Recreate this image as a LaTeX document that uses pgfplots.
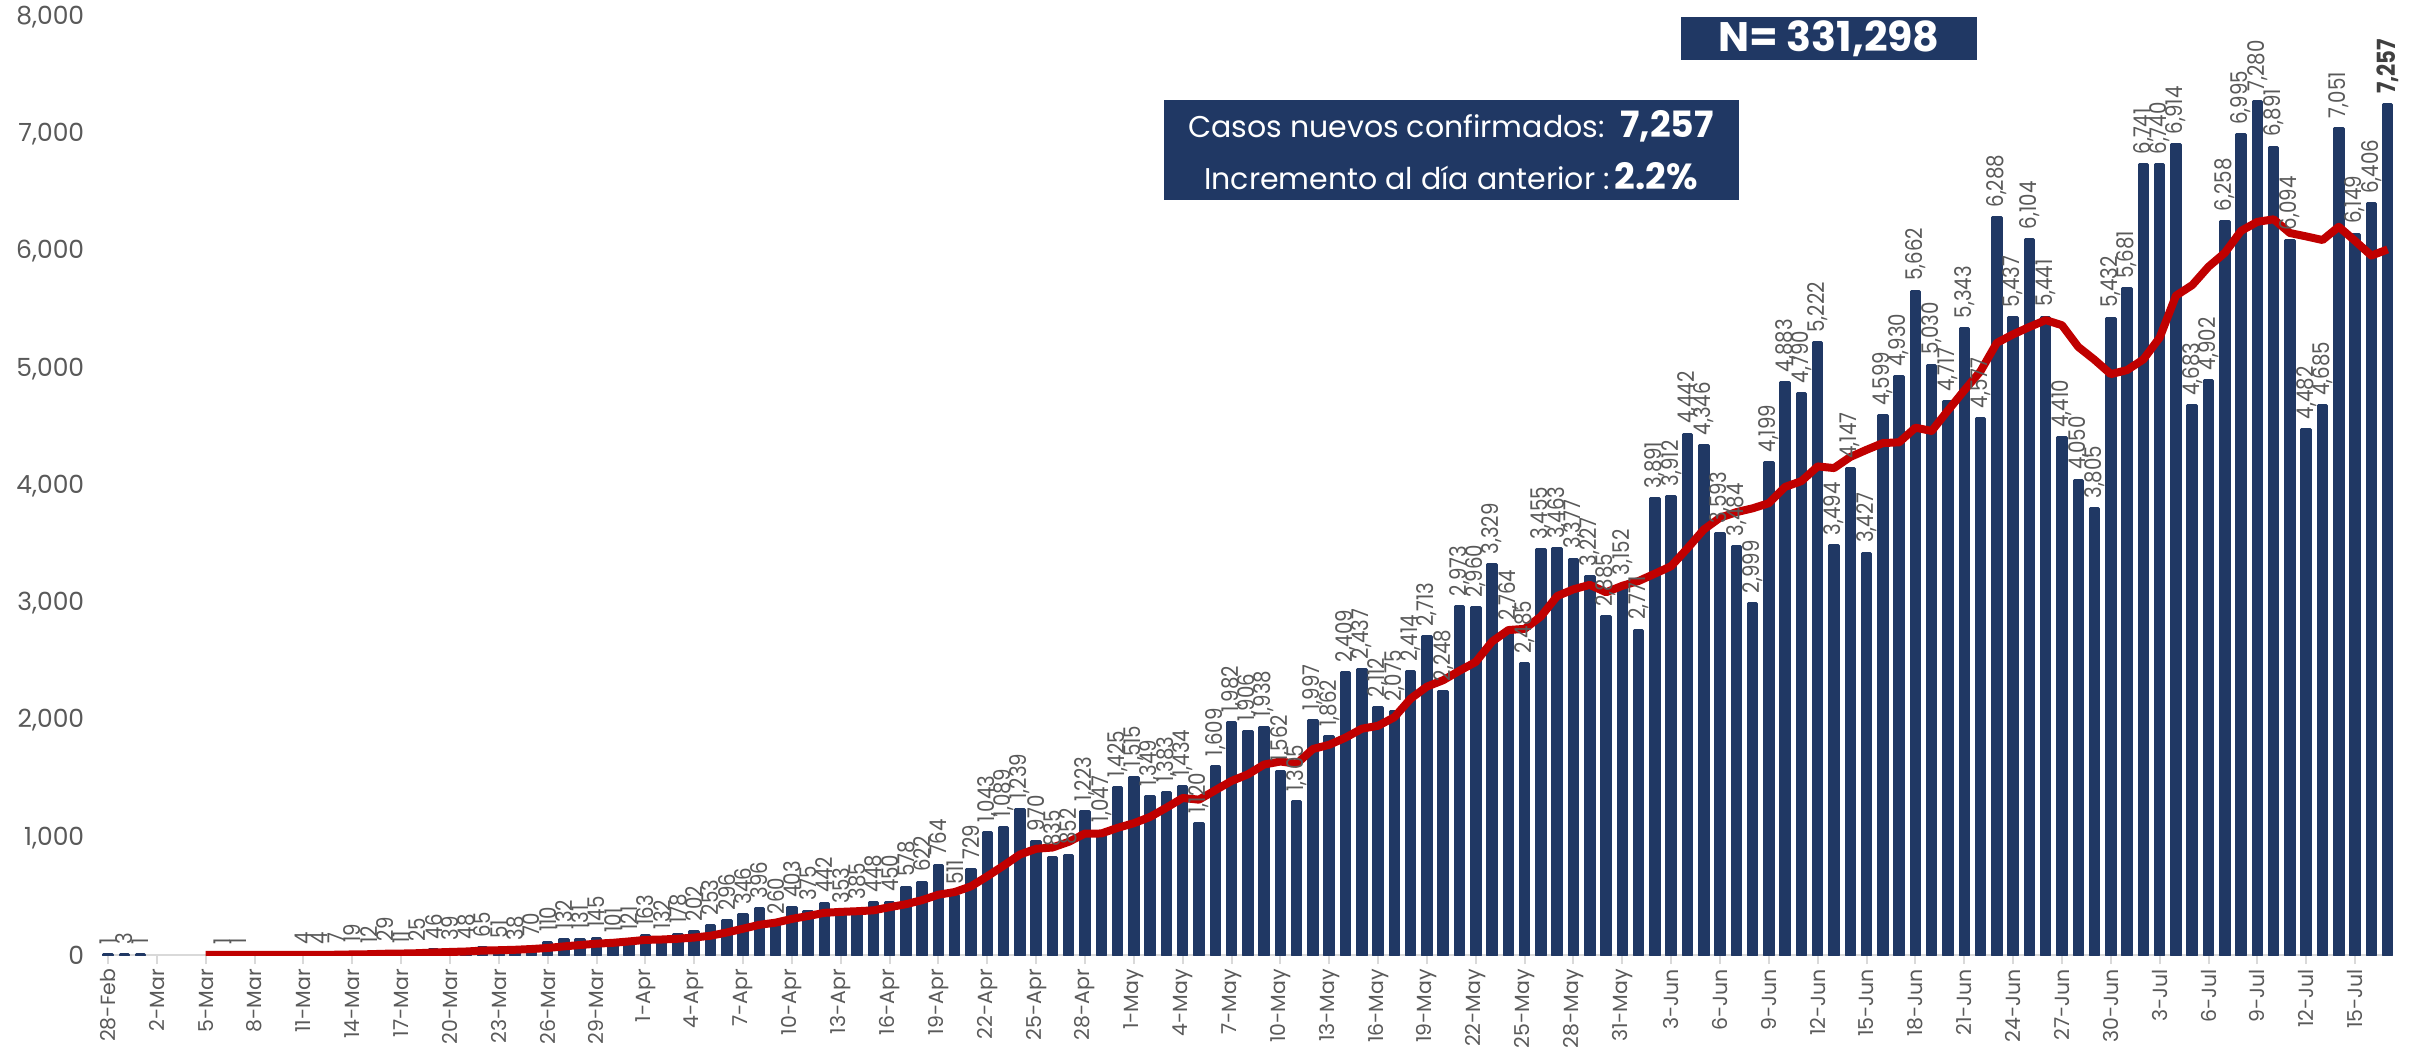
\documentclass[border=0pt]{standalone}
\usepackage{fontspec}
\setmainfont{Poppins}
\usepackage{pgfplots}
\pgfplotsset{compat=1.18}
\definecolor{barblue}{RGB}{32,56,100}
\definecolor{linered}{RGB}{192,0,0}
\definecolor{labelgray}{RGB}{89,89,89}
\definecolor{axisgray}{RGB}{217,217,217}
\definecolor{darklabel}{RGB}{64,64,64}

\begin{document}
\begin{tikzpicture}
\useasboundingbox (0,0) rectangle (967.2pt,418.8pt);
\begin{axis}[
 at={(40.8pt,36.8pt)}, anchor=south west,
 scale only axis, width=916.4pt, height=375.2pt,
 xmin=-0.37, xmax=140.33, ymin=0, ymax=8000,
 axis lines*=left,
 x axis line style={draw=axisgray, line width=1pt},
 y axis line style={draw=none},
 ytick={0,1000,...,8000},
 ytick style={draw=none},
 scaled y ticks=false,
 /pgf/number format/assume math mode=true,
 /pgf/number format/1000 sep={,},
 yticklabel style={font=\fontsize{10}{10}\selectfont, text=labelgray},
 xtick={0,3,...,138},
 xticklabels={28-Feb,2-Mar,5-Mar,8-Mar,11-Mar,14-Mar,17-Mar,20-Mar,23-Mar,26-Mar,29-Mar,1-Apr,4-Apr,7-Apr,10-Apr,13-Apr,16-Apr,19-Apr,22-Apr,25-Apr,28-Apr,1-May,4-May,7-May,10-May,13-May,16-May,19-May,22-May,25-May,28-May,31-May,3-Jun,6-Jun,9-Jun,12-Jun,15-Jun,18-Jun,21-Jun,24-Jun,27-Jun,30-Jun,3-Jul,6-Jul,9-Jul,12-Jul,15-Jul},
 xtick style={draw=axisgray, line width=0.8pt},
 tick align=outside,
 major tick length=3.6pt,
 xticklabel style={rotate=90, anchor=east, inner xsep=1.8pt, font=\fontsize{8.2}{8.2}\selectfont, text=labelgray},
]
\addplot[ybar, bar width=3.4pt, bar shift=0pt, fill=barblue, draw=barblue, line width=1.2pt, line join=round,
 nodes near coords={\scalebox{0.86}[1]{\pgfmathprintnumber{\pgfplotspointmeta}}},
 every node near coord/.append style={rotate=90, anchor=west, font=\fontsize{9.2}{9.2}\selectfont, text=labelgray, inner xsep=3.5pt, inner ysep=0pt}]
coordinates {(0,1)(1,3)(2,1)(7,1)(8,1)(12,4)(13,4)(14,7)(15,19)(16,12)(17,29)(18,11)(19,25)(20,46)(21,39)(22,48)(23,65)(24,51)(25,38)(26,70)(27,110)(28,132)(29,131)(30,145)(31,101)(32,121)(33,163)(34,132)(35,178)(36,202)(37,253)(38,296)(39,346)(40,396)(41,260)(42,403)(43,375)(44,442)(45,353)(46,385)(47,448)(48,450)(49,578)(50,622)(51,764)(52,511)(53,729)(54,1043)(55,1089)(56,1239)(57,970)(58,835)(59,852)(60,1223)(61,1047)(62,1425)(63,1515)(64,1349)(65,1383)(66,1434)(67,1120)(68,1609)(69,1982)(70,1906)(71,1938)(72,1562)(73,1305)(74,1997)(75,1862)(76,2409)(77,2437)(78,2112)(79,2075)(80,2414)(81,2713)(82,2248)(83,2973)(84,2960)(85,3329)(86,2764)(87,2485)(88,3455)(89,3463)(90,3377)(91,3227)(92,2885)(93,3152)(94,2771)(95,3891)(96,3912)(97,4442)(98,4346)(99,3593)(100,3484)(101,2999)(102,4199)(103,4883)(104,4790)(105,5222)(106,3494)(107,4147)(108,3427)(109,4599)(110,4930)(111,5662)(112,5030)(113,4717)(114,5343)(115,4577)(116,6288)(117,5437)(118,6104)(119,5441)(120,4410)(121,4050)(122,3805)(123,5432)(124,5681)(125,6741)(126,6740)(127,6914)(128,4683)(129,4902)(130,6258)(131,6995)(132,7280)(133,6891)(134,6094)(135,4482)(136,4685)(137,7051)(138,6149)(139,6406)};
\addplot[ybar, bar width=3.4pt, bar shift=0pt, fill=barblue, draw=barblue, line width=1.2pt, line join=round,
 nodes near coords={\scalebox{0.85}[1]{\bfseries\pgfmathprintnumber{\pgfplotspointmeta}}},
 every node near coord/.append style={rotate=90, anchor=west, font=\bfseries\fontsize{10}{10}\selectfont, text=darklabel, inner xsep=3.5pt, inner ysep=0pt}]
coordinates {(140,7257)};
\addplot[linered, line width=3.2pt, line join=round, mark=none] coordinates {(6,0.7)(7,0.7)(8,0.4)(9,0.3)(10,0.3)(11,0.3)(12,0.9)(13,1.4)(14,2.3)(15,4.9)(16,6.6)(17,10.7)(18,12.3)(19,15.3)(20,21.3)(21,25.9)(22,30.0)(23,37.6)(24,40.7)(25,44.6)(26,51.0)(27,60.1)(28,73.4)(29,85.3)(30,96.7)(31,103.9)(32,115.7)(33,129.0)(34,132.1)(35,138.7)(36,148.9)(37,164.3)(38,192.1)(39,224.3)(40,257.6)(41,275.9)(42,308.0)(43,332.7)(44,359.7)(45,367.9)(46,373.4)(47,380.9)(48,408.0)(49,433.0)(50,468.3)(51,514.3)(52,536.9)(53,586.0)(54,671.0)(55,762.3)(56,856.7)(57,906.4)(58,916.6)(59,965.3)(60,1035.9)(61,1036.4)(62,1084.4)(63,1123.9)(64,1178.0)(65,1256.3)(66,1339.4)(67,1324.7)(68,1405.0)(69,1484.6)(70,1540.4)(71,1624.6)(72,1650.1)(73,1631.7)(74,1757.0)(75,1793.1)(76,1854.1)(77,1930.0)(78,1954.9)(79,2028.1)(80,2186.6)(81,2288.9)(82,2344.0)(83,2424.6)(84,2499.3)(85,2673.1)(86,2771.6)(87,2781.7)(88,2887.7)(89,3061.3)(90,3119.0)(91,3157.1)(92,3093.7)(93,3149.1)(94,3190.0)(95,3252.3)(96,3316.4)(97,3468.6)(98,3628.4)(99,3729.6)(100,3777.0)(101,3809.6)(102,3853.6)(103,3992.3)(104,4042.0)(105,4167.1)(106,4153.0)(107,4247.7)(108,4308.9)(109,4366.0)(110,4372.7)(111,4497.3)(112,4469.9)(113,4644.6)(114,4815.4)(115,4979.7)(116,5221.0)(117,5293.4)(118,5356.6)(119,5415.3)(120,5371.4)(121,5186.7)(122,5076.4)(123,4954.1)(124,4989.0)(125,5080.0)(126,5265.6)(127,5623.3)(128,5713.7)(129,5870.4)(130,5988.4)(131,6176.1)(132,6253.1)(133,6274.7)(134,6157.6)(135,6128.9)(136,6097.9)(137,6211.1)(138,6090.3)(139,5965.4)(140,6017.7)};
\end{axis}
\fill[barblue] (465.6pt,338.8pt) rectangle (695.6pt,378.8pt);
\node[text=white, font=\fontsize{12}{12}\selectfont] at (580.4pt,368.4pt) {Casos nuevos confirmados:\, {\fontsize{14.5}{14.5}\selectfont\bfseries 7,257}};
\node[text=white, font=\fontsize{12}{12}\selectfont] at (580.4pt,348.4pt) {Incremento al día anterior :\,{\fontsize{14.5}{14.5}\selectfont\bfseries 2.2\%}};
\fill[barblue] (672.4pt,394.8pt) rectangle (790.8pt,412pt);
\node[text=white, font=\bfseries\fontsize{16.5}{16.5}\selectfont] at (731.6pt,403.4pt) {N= 331,298};
\end{tikzpicture}
\end{document}
